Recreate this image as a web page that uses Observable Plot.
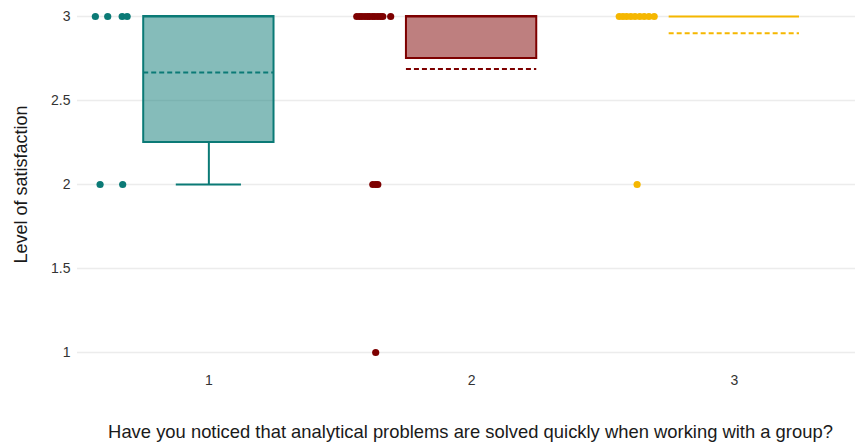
<!DOCTYPE html>
<html><head><meta charset="utf-8">
<script src="https://cdn.jsdelivr.net/npm/d3@7"></script>
<script src="https://cdn.jsdelivr.net/npm/@observablehq/plot@0.6"></script>
<style>body{margin:0;background:#fff;} svg{display:block;}</style>
</head><body><div id="chart"></div>
<script>
const categories = [1, 2, 3];
const colors = ["#0b7a76", "#7d0000", "#f5b700"];
const values1 = [3, 3, 3, 3, 2, 2];
const jitter1 = [-0.432, -0.385, -0.330, -0.311, -0.414, -0.328];
const values2 = [3, 3, 3, 3, 3, 3, 3, 3, 3, 3, 3, 3, 2, 2, 2, 1];
const jitter2 = [-0.437, -0.426, -0.417, -0.406, -0.396, -0.388, -0.377, -0.368, -0.357, -0.347, -0.338, -0.308, -0.376, -0.365, -0.357, -0.365];
const values3 = [3, 3, 3, 3, 3, 3, 3, 3, 3, 2];
const jitter3 = [-0.438, -0.424, -0.410, -0.394, -0.378, -0.360, -0.343, -0.325, -0.305, -0.370];
const yTicks = [1, 1.5, 2, 2.5, 3];
const xTitle = "Have you noticed that analytical problems are solved quickly when working with a group?";
const yTitle = "Level of satisfaction";

const hw = 0.248;
const allValues = [values1, values2, values3];
const allJitter = [jitter1, jitter2, jitter3];

const groups = allValues.map((vals, i) => {
  const s = vals.slice().sort(d3.ascending);
  const q1 = d3.quantile(s, 0.25), med = d3.quantile(s, 0.5), q3 = d3.quantile(s, 0.75);
  const iqr = q3 - q1;
  const lo = Math.min(q1, d3.min(s.filter(v => v >= q1 - 1.5 * iqr)));
  const hi = Math.max(q3, d3.max(s.filter(v => v <= q3 + 1.5 * iqr)));
  return {cat: categories[i], color: colors[i], q1, med, q3, lo, hi, mean: d3.mean(s)};
});
const points = allValues.flatMap((vals, i) => vals.map((v, j) => ({cat: categories[i], v, jit: allJitter[i][j], color: colors[i]})));
const loW = groups.filter(g => g.lo < g.q1);
const hiW = groups.filter(g => g.hi > g.q3);
const boxes = groups.filter(g => g.q3 > g.q1);

const chart = Plot.plot({
  width: 855,
  height: 442,
  marginLeft: 77,
  marginRight: 0,
  marginTop: 16,
  marginBottom: 90,
  style: {fontFamily: "'Liberation Sans', Arial, sans-serif", fontSize: "14px", color: "#333", background: "#fff"},
  x: {type: "linear", domain: [0.5, 1 + (855 - 209.3) / 262.35]},
  y: {domain: [1, 3]},
  color: {type: "identity"},
  marks: [
    Plot.ruleY(yTicks, {stroke: "#ececec", strokeWidth: 1.5}),
    Plot.axisY({ticks: yTicks, tickSize: 0, tickPadding: 7, tickFormat: d => String(d), label: null, fontSize: 14}),
    Plot.axisX({ticks: categories, tickSize: 0, tickPadding: 23, tickFormat: d => String(d), label: null, fontSize: 14}),
    Plot.ruleX(loW, {x: "cat", y1: "lo", y2: "q1", stroke: "color", strokeWidth: 2}),
    Plot.ruleY(loW, {y: "lo", x1: d => d.cat - hw / 2, x2: d => d.cat + hw / 2, stroke: "color", strokeWidth: 2}),
    Plot.ruleX(hiW, {x: "cat", y1: "q3", y2: "hi", stroke: "color", strokeWidth: 2}),
    Plot.ruleY(hiW, {y: "hi", x1: d => d.cat - hw / 2, x2: d => d.cat + hw / 2, stroke: "color", strokeWidth: 2}),
    Plot.rect(boxes, {x1: d => d.cat - hw, x2: d => d.cat + hw, y1: "q1", y2: "q3", fill: "color", fillOpacity: 0.5, stroke: "color", strokeWidth: 2}),
    Plot.ruleY(groups, {y: "med", x1: d => d.cat - hw, x2: d => d.cat + hw, stroke: "color", strokeWidth: 2}),
    Plot.ruleY(groups, {y: "mean", x1: d => d.cat - hw, x2: d => d.cat + hw, stroke: "color", strokeWidth: 2, strokeDasharray: "5,3"}),
    Plot.dot(points, {x: d => d.cat + d.jit, y: "v", r: 3.6, fill: "color", stroke: null}),
    Plot.text([xTitle], {frameAnchor: "bottom", lineAnchor: "middle", textAnchor: "middle", dx: 4, dy: 80, fontSize: 18.4, fill: "#1a1a1a"}),
    Plot.text([yTitle], {frameAnchor: "left", textAnchor: "middle", lineAnchor: "middle", dx: -56, rotate: -90, fontSize: 18, fill: "#1a1a1a"})
  ]
});
document.getElementById("chart").appendChild(chart);
</script>
</body></html>
